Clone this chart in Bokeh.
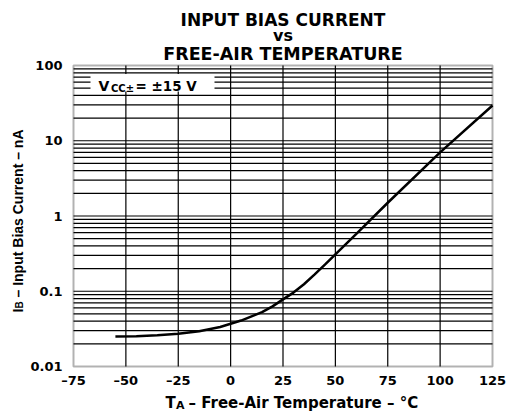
import numpy as np
from bokeh.plotting import figure
from bokeh.models import Range1d, FixedTicker, Label, BoxAnnotation
from bokeh.embed import file_html
from bokeh.resources import INLINE

# ---- data ----
temps = [-55, -45, -35, -25, -15, -5, 5, 15, 20, 25, 30, 35, 40, 45, 50, 60, 75, 100, 125]
ib_na = [0.0251, 0.0253, 0.026, 0.0273, 0.0294, 0.0335, 0.0408, 0.0527, 0.063,
         0.078, 0.096, 0.124, 0.166, 0.226, 0.31, 0.58, 1.5, 7.0, 29.4]

x_ticks = [-75, -50, -25, 0, 25, 50, 75, 100, 125]
x_tick_labels = ["–75", "–50", "–25", "0", "25", "50", "75", "100", "125"]
y_ticks = [0.01, 0.1, 1, 10, 100]
y_tick_labels = ["0.01", "0.1", "1", "10", "100"]
decades = [0.01, 0.1, 1, 10]
mantissas = [1, 2, 3, 4, 5, 6, 7, 8, 9]

title_lines = ["INPUT BIAS CURRENT", "vs", "FREE-AIR TEMPERATURE"]
legend_parts = ["V", "CC±", "= ±15 V"]
xlabel_parts = ["T", "A", "– Free-Air Temperature – °C"]
ylabel_parts = ["I", "B", "– Input Bias Current – nA"]

BOLD = "bold"
FONT = "DejaVu Sans"
FONT2 = "Liberation Sans"

# ---- layout (pixels of the 508x412 canvas) ----
W, H = 508, 412
FL, FR, FT, FB = 73, 492, 65, 366          # chart rectangle
X0, X1 = x_ticks[0], x_ticks[-1]
Y0, Y1 = y_ticks[0], y_ticks[-1]
ppx = (FR - FL) / (X1 - X0)                  # px per degree
ppd = (FB - FT) / np.log10(Y1 / Y0)          # px per decade


def dx(px):
    return X0 + (px - FL) / ppx


def dy(py):
    return 10 ** (np.log10(Y1) - (py - FT) / ppd)


p = figure(width=W, height=H, y_axis_type="log",
           x_range=Range1d(dx(0), dx(W)), y_range=Range1d(dy(H), dy(0)),
           output_backend="svg", toolbar_location=None,
           min_border=0, min_border_left=0, min_border_right=0,
           min_border_top=0, min_border_bottom=0)
p.background_fill_color = "white"
p.border_fill_color = "white"
p.outline_line_color = None
p.grid.visible = False

# grid lines restricted to the chart rectangle
grid_vals = [m * d for d in decades for m in mantissas]
p.segment(x0=x_ticks[1:-1], y0=[Y0] * (len(x_ticks) - 2),
          x1=x_ticks[1:-1], y1=[Y1] * (len(x_ticks) - 2),
          line_color="black", line_width=1.2)
p.segment(x0=[X0] * (len(grid_vals) - 1), y0=grid_vals[1:],
          x1=[X1] * (len(grid_vals) - 1), y1=grid_vals[1:],
          line_color="black", line_width=1.2)

# axes, fixed at the chart edges
p.xaxis.fixed_location = Y0
p.yaxis.fixed_location = X0
p.xaxis.ticker = FixedTicker(ticks=x_ticks)
p.xaxis.major_label_overrides = {t: s for t, s in zip(x_ticks, x_tick_labels)}
p.yaxis.ticker = FixedTicker(ticks=y_ticks)
p.yaxis.major_label_overrides = {t: s for t, s in zip(y_ticks, y_tick_labels)}
for ax in (p.xaxis, p.yaxis):
    ax.axis_line_color = None
    ax.major_tick_line_color = None
    ax.minor_tick_line_color = None
    ax.major_tick_in = 0
    ax.major_tick_out = 0
    ax.minor_tick_in = 0
    ax.minor_tick_out = 0
    ax.major_label_text_font = FONT
    ax.major_label_text_font_style = BOLD
    ax.major_label_text_font_size = "13px"
    ax.major_label_text_color = "black"
p.xaxis.major_label_standoff = 6
p.yaxis.major_label_standoff = 11

# curve
p.line(temps, ib_na, line_color="black", line_width=2.5)

# chart frame
p.add_layout(BoxAnnotation(left=X0, right=X1, bottom=Y0, top=Y1,
                           fill_color=None, line_color="black", line_width=2))

# legend box and text
p.add_layout(BoxAnnotation(left=dx(90), right=dx(214), top=dy(73.5), bottom=dy(91),
                           fill_color="white", fill_alpha=1.0, line_color=None))


def lab(px, py, text, size, font=FONT, angle=0.0, align="left"):
    p.add_layout(Label(x=dx(px), y=dy(py), text=text, text_font=font,
                       text_font_style=BOLD, text_font_size=size, angle=angle,
                       text_align=align, text_baseline="alphabetic",
                       text_color="black"))


lab(98, 85, legend_parts[0], "14px")
lab(110.5, 88, legend_parts[1], "10px")
lab(135, 85, legend_parts[2], "13.5px")

# title
for txt, py, sz in zip(title_lines, [19.7, 35.3, 53.7], ["17px", "16px", "17.5px"]):
    lab((FL + FR) / 2, py, txt, sz, align="center")

# x-axis label with subscript
lab(165, 402, xlabel_parts[0], "15px")
lab(175.5, 405, xlabel_parts[1], "11px")
lab(188, 402, xlabel_parts[2], "15px")

# y-axis label (rotated) with subscript
lab(17, 312, ylabel_parts[0], "14px", FONT2, np.pi / 2)
lab(18.5, 308, ylabel_parts[1], "10px", FONT2, np.pi / 2)
lab(17, 297, ylabel_parts[2], "14px", FONT2, np.pi / 2)

open("out.html", "w").write(file_html(p, INLINE))
